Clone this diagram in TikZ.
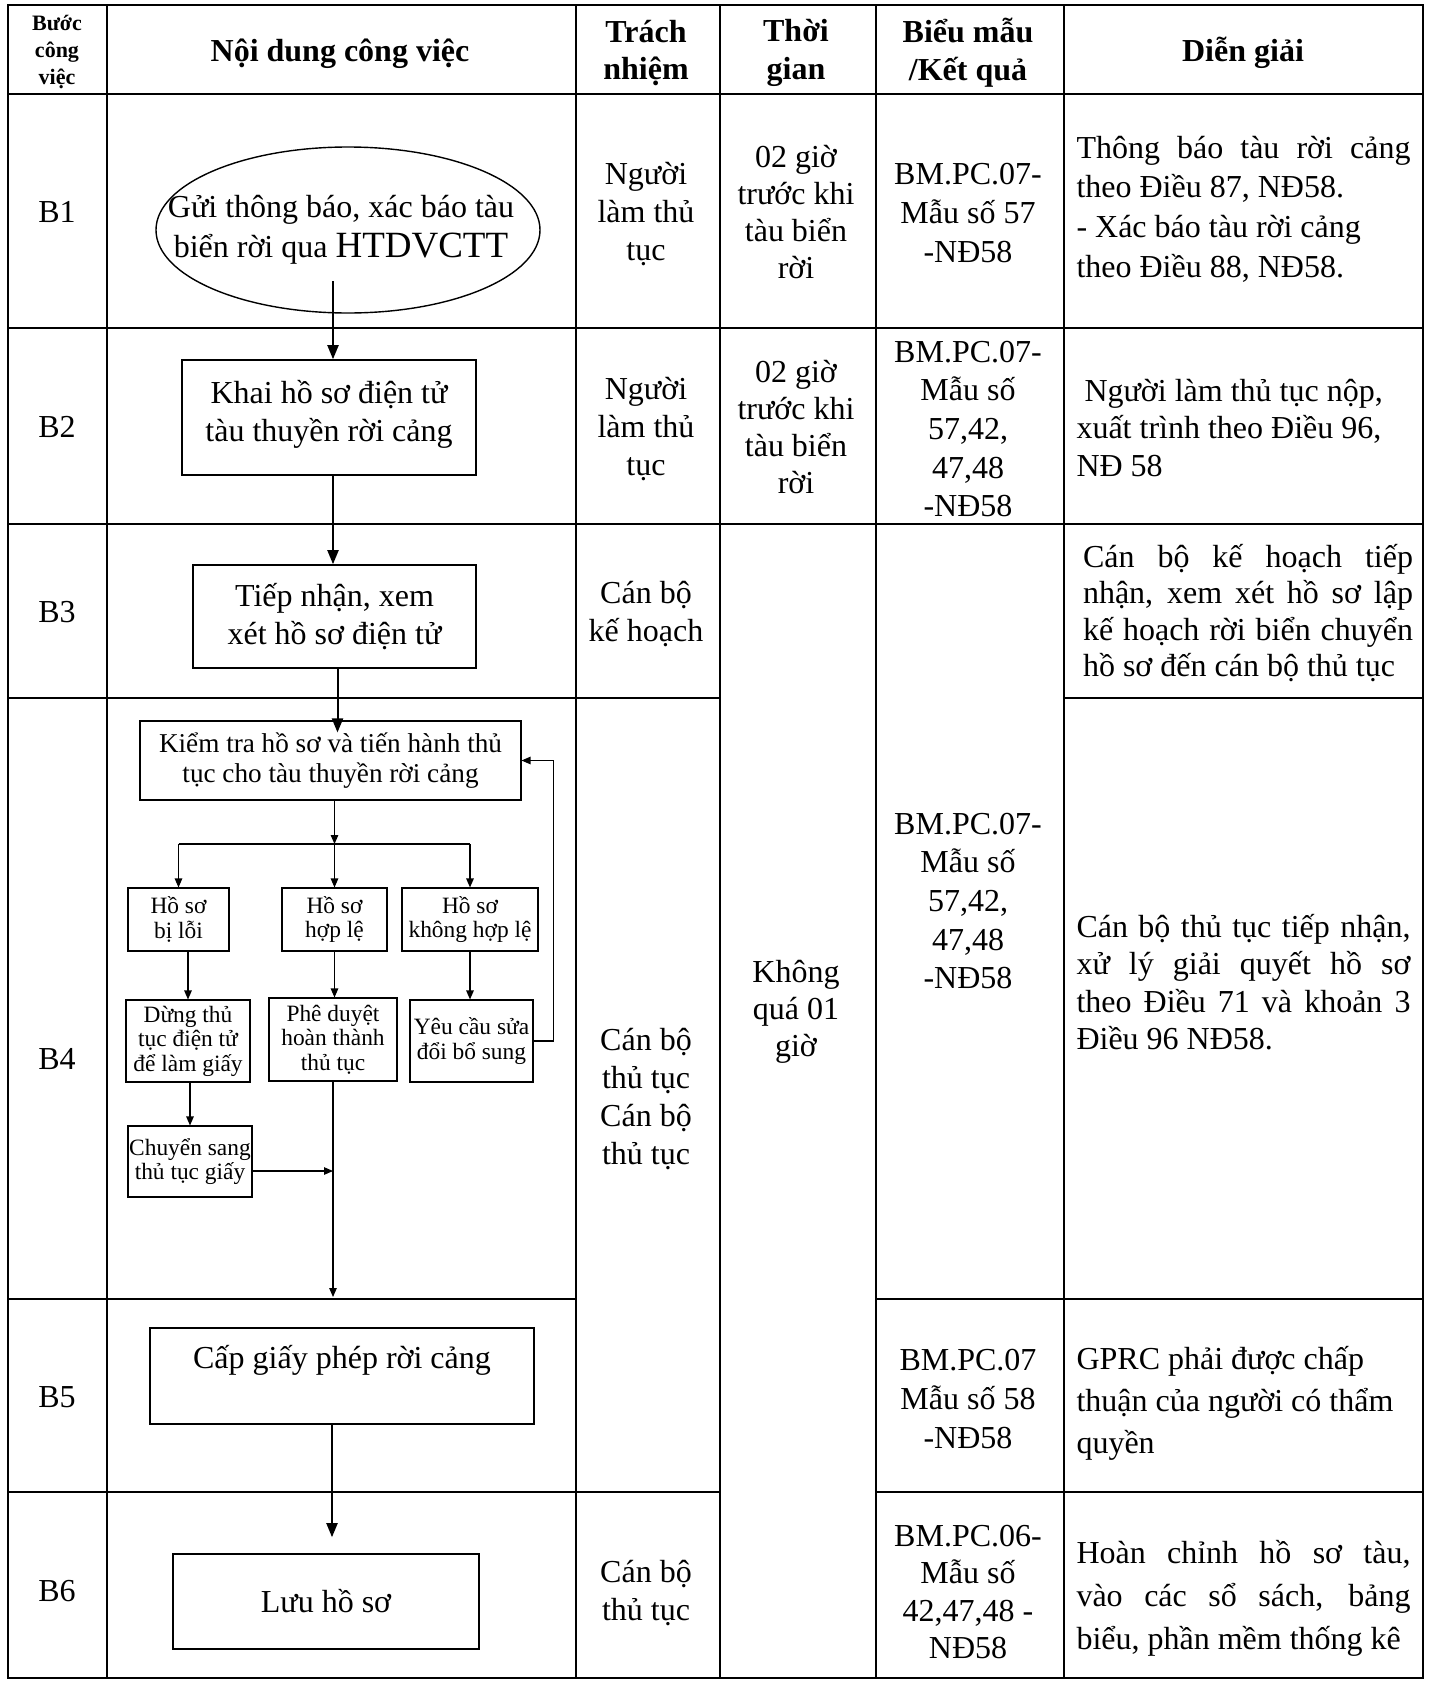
\documentclass[tikz,border=0pt]{standalone}
\usepackage{fontspec}
\setmainfont{Liberation Serif}
\usetikzlibrary{arrows.meta, shapes.geometric}

\begin{document}
\begin{tikzpicture}[x=1pt, y=-1pt,
		grid/.style={line width=2.7pt},
		cell/.style={align=center, inner sep=0pt, font=\fontsize{32}{38}\selectfont},
		head/.style={cell, font=\bfseries\fontsize{32}{37.6}\selectfont},
		note/.style={text width=334pt, align=justify, inner sep=0pt, font=\fontsize{32}{38}\selectfont},
		mainbox/.style={draw, line width=1.6pt, align=center, inner sep=0pt, font=\fontsize{32}{37.6}\selectfont},
		subbox/.style={draw, line width=1.1pt, align=center, inner sep=0pt, font=\fontsize{23.4}{24.6}\selectfont},
		mainarrow/.style={line width=2pt, -{Triangle[length=14pt, width=11pt]}},
		subarrow/.style={line width=1.2pt, -{Triangle[length=9pt, width=7.5pt]}}]
	\fill[white] (0,0) rectangle (1429,1681);
	\useasboundingbox (0,0) rectangle (1429,1681);
	% table grid
	\draw[grid] (8,5) rectangle (1423,1678);
	\foreach \x in {107, 576, 720, 876, 1064}
		\draw[grid] (\x,5) -- (\x,1678);
	\foreach \y in {94, 328, 524}
		\draw[grid] (8,\y) -- (1423,\y);
	\draw[grid] (8,698) -- (720,698) (1064,698) -- (1423,698);
	\draw[grid] (8,1299) -- (576,1299) (876,1299) -- (1423,1299);
	\draw[grid] (8,1492) -- (720,1492) (876,1492) -- (1423,1492);
	% header
	\node[head, font=\bfseries\fontsize{22}{26.8}\selectfont] (hstep) at (57,52) {Bước\\công\\việc};
	\node[head] (hcontent) at (340,54) {Nội dung công việc};
	\node[head] (hresp) at (646,53) {Trách\\nhiệm};
	\node[head] (htime) at (796,53) {Thời\\gian};
	\node[head] (hform) at (968,53) {Biểu mẫu\\/Kết quả};
	\node[head] (hnote) at (1243,53) {Diễn giải};
	% step labels
	\foreach \s/\y in {1/212, 2/427, 3/612, 4/1059, 5/1397, 6/1591}
		\node[cell] (lbl\s) at (57,\y) {B\s};
	% main flow
	\node[ellipse, draw, line width=1.4pt, minimum width=384pt, minimum height=166pt] (b1) at (348,230) {};
	\node[cell, font=\fontsize{32}{40}\selectfont] (b1txt) at (341,229.5) {Gửi thông báo, xác báo tàu\\biển rời qua {\fontsize{37}{40}\selectfont HTDVCTT}};
	\node[mainbox, minimum width=294pt, minimum height=115pt] (b2) at (329,417.5) {Khai hồ sơ điện tử\\tàu thuyền rời cảng\\[-25pt]\mbox{}};
	\node[mainbox, minimum width=283pt, minimum height=103pt] (b3) at (334.5,616.5) {Tiếp nhận, xem\\xét hồ sơ điện tử};
	\node[mainbox, minimum width=384pt, minimum height=96pt] (b5) at (342,1376) {Cấp giấy phép rời cảng\\\mbox{}};
	\node[mainbox, minimum width=306pt, minimum height=95pt] (b6) at (326,1601.5) {Lưu hồ sơ};
	% B4 sub flow
	\node[subbox, font=\fontsize{27.2}{30}\selectfont, minimum width=381pt, minimum height=79pt] (kiem) at (330.5,760.5) {Kiểm tra hồ sơ và tiến hành thủ\\tục cho tàu thuyền rời cảng};
	\node[subbox, minimum width=101pt, minimum height=63pt] (loi) at (178.5,919.5) {Hồ sơ\\bị lỗi};
	\node[subbox, minimum width=105pt, minimum height=63pt] (hople) at (334.5,919.5) {Hồ sơ\\hợp lệ};
	\node[subbox, minimum width=136pt, minimum height=63pt] (khong) at (470,919.5) {Hồ sơ\\không hợp lệ};
	\node[subbox, minimum width=124pt, minimum height=82pt] (dung) at (188,1041) {Dừng thủ\\tục điện tử\\để làm giấy};
	\node[subbox, minimum width=128pt, minimum height=83pt] (duyet) at (333,1039.5) {Phê duyệt\\hoàn thành\\thủ tục};
	\node[subbox, minimum width=123pt, minimum height=82pt] (yeucau) at (471.5,1041) {Yêu cầu sửa\\đổi bổ sung};
	\node[subbox, minimum width=124pt, minimum height=71pt] (chuyen) at (190,1161.5) {Chuyển sang\\thủ tục giấy};
	% connectors
	\coordinate (b1out) at (333,281);
	\draw[mainarrow] (b1out) -- (b1out |- b2.north);
	\draw[mainarrow] (b2.south -| b1out) -- (b1out |- b3.north);
	\coordinate (b3out) at ([xshift=3pt]b3.south);
	\draw[mainarrow] (b3out) -- ([yshift=-12pt]b3out |- kiem.north);
	\coordinate (splitlvl) at (0,844);
	\coordinate (split) at (hople.north |- splitlvl);
	\draw[subarrow] (kiem.south -| split) -- (split);
	\draw[line width=1.2pt] (loi.north |- split) -- (khong.north |- split);
	\foreach \n in {loi, hople, khong}
		\draw[subarrow] (\n.north |- split) -- (\n.north);
	\draw[subarrow] (dung.north |- loi.south) -- (dung.north);
	\draw[subarrow] (hople.south) -- (hople.south |- duyet.north);
	\draw[subarrow] (khong.south) -- (khong.south |- yeucau.north);
	\draw[subarrow] (dung.south -| chuyen.north) -- (chuyen.north);
	\draw[subarrow] (yeucau.east) -- ++(20,0) |- (kiem.east);
	\coordinate (b4bot) at (0,1297);
	\draw[subarrow] (duyet.south) -- (duyet.south |- b4bot);
	\draw[subarrow] ([yshift=-9.5pt]chuyen.east) -- ([yshift=-9.5pt]chuyen.east -| duyet.south);
	\coordinate (b5out) at ([xshift=-10pt]b5.south);
	\draw[mainarrow] (b5out) -- ([yshift=16pt]b5out |- b6.north);
	% responsibility
	\node[cell] (tn1) at (646,214) {Người\\làm thủ\\tục};
	\node[cell] (tn2) at (646,429) {Người\\làm thủ\\tục};
	\node[cell] (tn3) at (646,614) {Cán bộ\\kế hoạch};
	\node[cell] (tn4) at (646,1099) {Cán bộ\\thủ tục\\Cán bộ\\thủ tục};
	\node[cell] (tn6) at (646,1593) {Cán bộ\\thủ tục};
	% time
	\node[cell, font=\fontsize{32}{37.2}\selectfont] (tg1) at (796,212) {02 giờ\\trước khi\\tàu biển\\rời};
	\node[cell, font=\fontsize{32}{37.2}\selectfont] (tg2) at (796,427) {02 giờ\\trước khi\\tàu biển\\rời};
	\node[cell, font=\fontsize{32}{37.2}\selectfont] (tg3) at (796,1012) {Không\\quá 01\\giờ};
	% forms
	\node[cell, font=\fontsize{32}{38.6}\selectfont] (bm1) at (968,213) {BM.PC.07-\\Mẫu số 57\\-NĐ58};
	\node[cell, font=\fontsize{32}{38.6}\selectfont] (bm2) at (968,429) {BM.PC.07-\\Mẫu số\\57,42,\\47,48\\-NĐ58};
	\node[cell, font=\fontsize{32}{38.6}\selectfont] (bm3) at (968,901) {BM.PC.07-\\Mẫu số\\57,42,\\47,48\\-NĐ58};
	\node[cell, font=\fontsize{32}{38.6}\selectfont] (bm5) at (968,1399) {BM.PC.07\\Mẫu số 58\\-NĐ58};
	\node[cell, font=\fontsize{32}{37.6}\selectfont] (bm6) at (968,1592) {BM.PC.06-\\Mẫu số\\42,47,48 -\\NĐ58};
	% notes
	\node[note, font=\fontsize{32}{39.7}\selectfont] (dg1) at (1243.5,209) {Thông báo tàu rời cảng\linebreak theo Điều 87, NĐ58.\\- Xác báo tàu rời cảng\\theo Điều 88, NĐ58.};
	\node[note, font=\fontsize{32}{37.5}\selectfont] (dg2) at (1243.5,428) {\hspace*{8pt}Người làm thủ tục nộp,\\xuất trình theo Điều 96,\\NĐ 58};
	\node[note, text width=330pt, font=\fontsize{32}{36.5}\selectfont] (dg3) at (1248,613) {Cán bộ kế hoạch tiếp\linebreak nhận, xem xét hồ sơ lập\linebreak kế hoạch rời biển chuyển\linebreak hồ sơ đến cán bộ thủ tục};
	\node[note, font=\fontsize{32}{37.5}\selectfont] (dg4) at (1243.5,982) {Cán bộ thủ tục tiếp nhận,\linebreak xử lý giải quyết hồ sơ\linebreak theo Điều 71 và khoản 3\linebreak Điều 96 NĐ58.};
	\node[note, font=\fontsize{32}{42}\selectfont] (dg5) at (1243.5,1403) {GPRC phải được chấp\\thuận của người có thẩm\\quyền};
	\node[note, font=\fontsize{32}{43}\selectfont] (dg6) at (1243.5,1598) {Hoàn chỉnh hồ sơ tàu,\linebreak vào các sổ sách, bảng\linebreak biểu, phần mềm thống kê};
\end{tikzpicture}
\end{document}
